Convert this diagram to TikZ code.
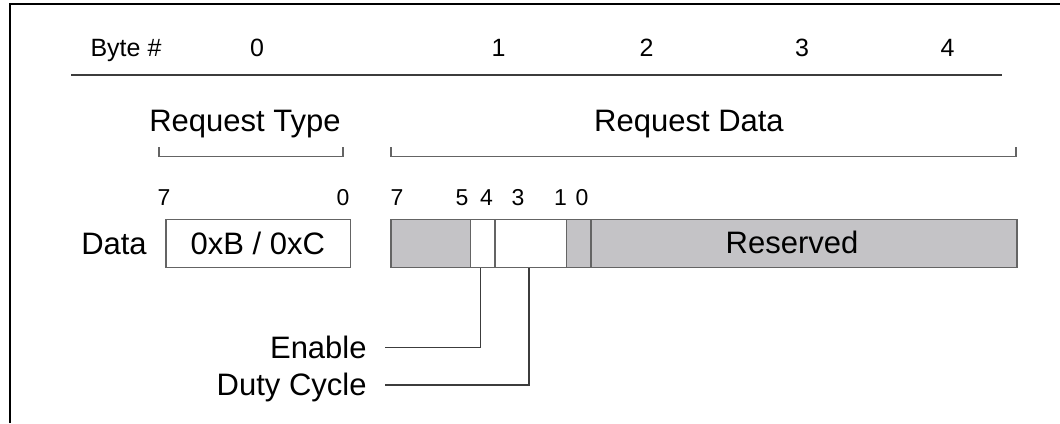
\documentclass[tikz,border=0pt]{standalone}
\usepackage{fontspec}
\setmainfont{Liberation Sans}
\definecolor{cellgray}{RGB}{196,195,198}
\definecolor{edgegray}{RGB}{100,100,100}
\definecolor{linegray}{RGB}{60,60,60}
\begin{document}
\begin{tikzpicture}[x=1pt,y=-1pt,
  big/.style={font=\fontsize{31}{36}\selectfont, inner sep=0pt},
  mid/.style={font=\fontsize{25}{29}\selectfont, inner sep=0pt, anchor=base},
  bit/.style={font=\fontsize{23}{27}\selectfont, inner sep=0pt, anchor=base},
  cell/.style={draw=edgegray, line width=1.4pt, minimum height=48.3, inner sep=0pt, outer sep=0pt},
  grayc/.style={cell, fill=cellgray},
  whitec/.style={cell, fill=white},
  brk/.style={draw=edgegray, line width=1.3pt},
  lead/.style={draw=linegray, line width=1.2pt}]
\useasboundingbox (0,0) rectangle (1060,423);
% frame
\draw[line width=2pt] (10,423) -- (10,3.7) -- (1060,3.7);
% byte header
\node[mid] (byte) at (126,56) {Byte \#};
\node[mid] (b0) at (257,56.5) {0};
\node[mid] (b1) at (498.6,56.5) {1};
\node[mid] (b2) at (646.6,56.5) {2};
\node[mid] (b3) at (802,56.5) {3};
\node[mid] (b4) at (947.5,56.5) {4};
\coordinate (hl) at (71,75);
\coordinate (hr) at (1001.6,75);
\draw[lead] (hl) -- (hr);
% group titles
\node[big, anchor=base] (rt) at (245,131) {Request Type};
\node[big, anchor=base] (rd) at (689,131) {Request Data};
% brackets
\coordinate (rtl) at (159,156.5);
\coordinate (rtr) at (343,156.5);
\coordinate (rdl) at (391,156.5);
\coordinate (rdr) at (1016,156.5);
\draw[brk] ([yshift=9.5]rtl) -- (rtl) -- (rtr) -- ([yshift=9.5]rtr);
\draw[brk] ([yshift=9.5]rdl) -- (rdl) -- (rdr) -- ([yshift=9.5]rdr);
% bit labels
\node[bit] (t7) at (164,205.5) {7};
\node[bit] (t0) at (343,205.5) {0};
\node[bit] (d7) at (397,205.5) {7};
\node[bit] (d5) at (462,205.5) {5};
\node[bit] (d4) at (486.5,205.5) {4};
\node[bit] (d3) at (518,205.5) {3};
\node[bit] (d1) at (560.4,205.5) {1};
\node[bit] (d0) at (582,205.5) {0};
% data row
\node[big, anchor=base] (data) at (114,254) {Data};
\node[whitec, minimum width=184.6] (rtbox) at (258.3,243.45) {};
\node[big, anchor=base] (rtval) at (257.8,254) {0xB / 0xC};
\node[grayc, minimum width=79.7] (c75) at (430.85,243.45) {};
\node[whitec, minimum width=24.3] (c4) at (482.85,243.45) {};
\node[whitec, minimum width=71.6] (c31) at (530.8,243.45) {};
\node[grayc, minimum width=24.2] (c0) at (578.7,243.45) {};
\node[grayc, minimum width=426.2] (res) at (803.9,243.45) {};
\node[big, anchor=base] (resl) at (792,253) {Reserved};
% leaders
\coordinate (en) at (385,347.7);
\coordinate (dc) at (385,385);
\node[big, anchor=base east] (enl) at (366.8,358.5) {Enable};
\node[big, anchor=base east] (dcl) at (366.8,395.8) {Duty Cycle};
\draw[lead] ([xshift=-2]c4.south) |- (en);
\draw[lead] ([xshift=-1.8]c31.south) |- (dc);
\end{tikzpicture}
\end{document}
